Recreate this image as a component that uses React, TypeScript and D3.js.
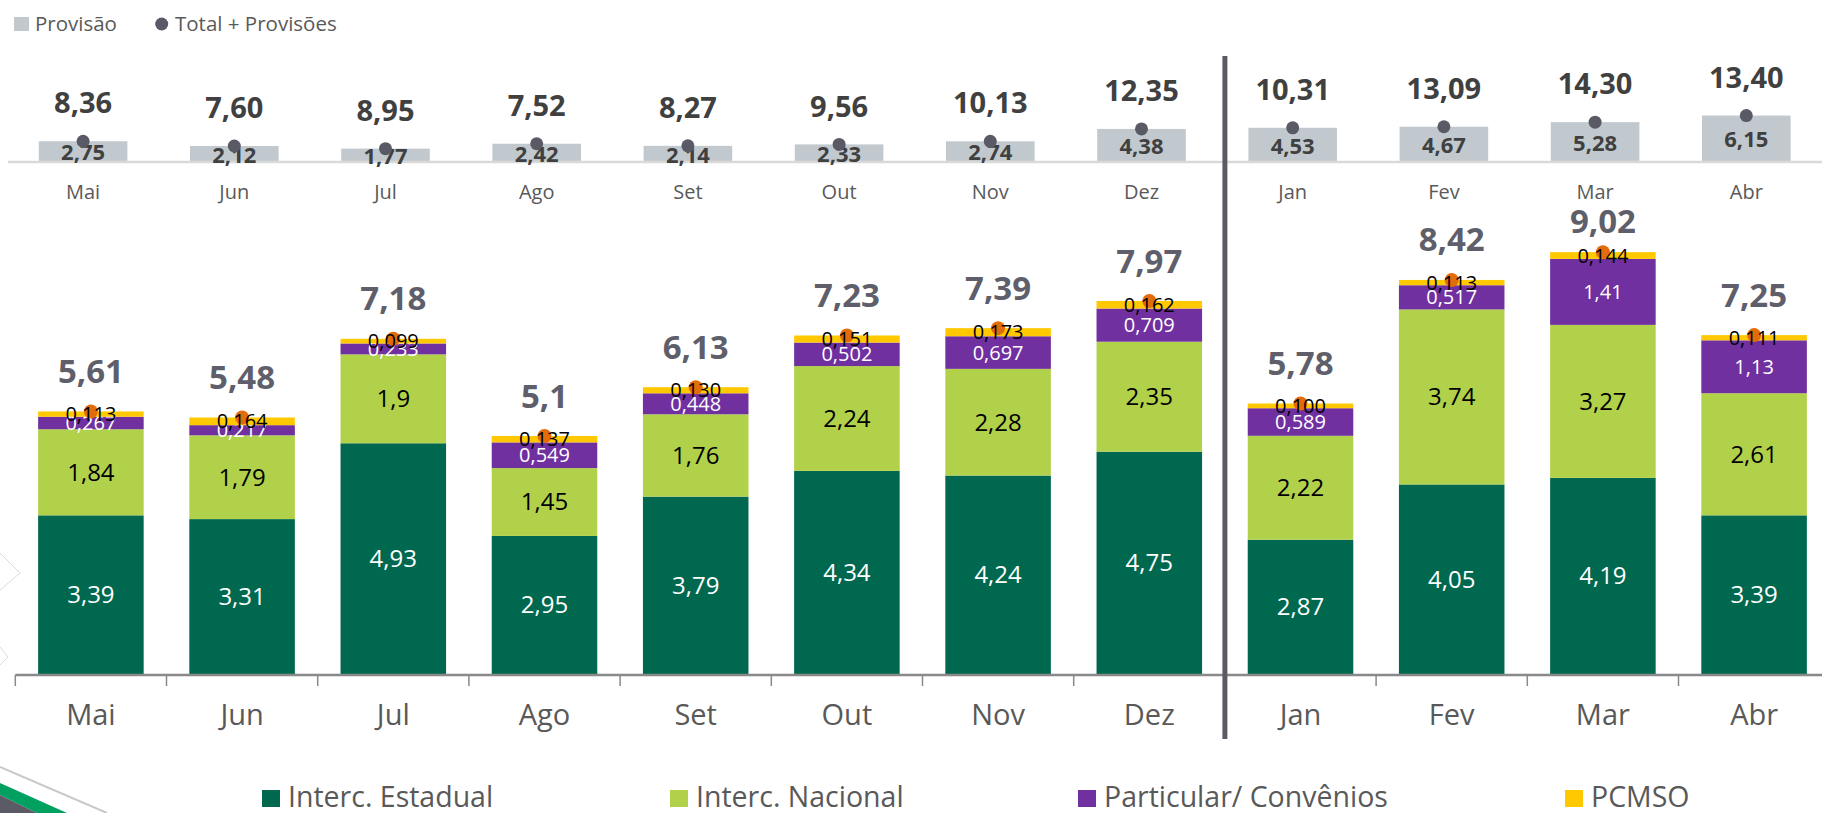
import React, { useRef, useEffect } from 'react';
import * as d3 from 'd3';

// chart data
const months = ['Mai', 'Jun', 'Jul', 'Ago', 'Set', 'Out', 'Nov', 'Dez', 'Jan', 'Fev', 'Mar', 'Abr'];
const intercEstadual = [3.39, 3.31, 4.93, 2.95, 3.79, 4.34, 4.24, 4.75, 2.87, 4.05, 4.19, 3.39];
const intercNacional = [1.84, 1.79, 1.9, 1.45, 1.76, 2.24, 2.28, 2.35, 2.22, 3.74, 3.27, 2.61];
const particular = [0.267, 0.217, 0.233, 0.549, 0.448, 0.502, 0.697, 0.709, 0.589, 0.517, 1.41, 1.13];
const pcmso = [0.113, 0.164, 0.099, 0.137, 0.13, 0.151, 0.173, 0.162, 0.1, 0.113, 0.144, 0.111];
const totals = [5.61, 5.48, 7.18, 5.1, 6.13, 7.23, 7.39, 7.97, 5.78, 8.42, 9.02, 7.25];
const provisao = [2.75, 2.12, 1.77, 2.42, 2.14, 2.33, 2.74, 4.38, 4.53, 4.67, 5.28, 6.15];
const totalProvisoes = [8.36, 7.6, 8.95, 7.52, 8.27, 9.56, 10.13, 12.35, 10.31, 13.09, 14.3, 13.4];

const seriesKeys = ['Interc. Estadual', 'Interc. Nacional', 'Particular/ Convênios', 'PCMSO'];
const seriesColors = ['#00684F', '#B1D14B', '#7030A0', '#FFC800'];
const labelColors = ['#ffffff', '#000000', '#ffffff', '#000000'];
const labelSizes = [24, 24, 20, 20];

const FONT = '"Open Sans", sans-serif';

const comma = (v: number) => String(v).replace('.', ',');

const App = () => {
  const svgRef = useRef<SVGSVGElement>(null);

  useEffect(() => {
    const W = 1822;
    const H = 813;
    const svg = d3.select(svgRef.current).attr('width', W).attr('height', H).style('font-family', FONT);
    svg.selectAll('*').remove();

    // background decoration (bottom-left corner)
    svg.append('polyline').attr('points', '0,553 20,573 0,590').attr('fill', 'none').attr('stroke', '#DCDCDC');
    svg.append('polyline').attr('points', '0,647 8,657 0,665').attr('fill', 'none').attr('stroke', '#DCDCDC');
    svg.append('line').attr('x1', 0).attr('y1', 767).attr('x2', 107).attr('y2', 813)
      .attr('stroke', '#C8C8C8').attr('stroke-width', 2);
    svg.append('polygon').attr('points', '0,783 67,813 37,813 0,795').attr('fill', '#00A060');
    svg.append('polygon').attr('points', '0,795 37,813 0,813').attr('fill', '#5B5B66');

    // ---------- top chart: provisão ----------
    const xTop = d3.scaleBand().domain(months).range([7.5, 7.5 + 12 * 151.2]);
    const yTop = d3.scaleLinear().domain([0, 7]).range([162, 162 - 7 * 7.55]);
    const topW = xTop.bandwidth() * 0.586;
    const cTop = (m: string) => (xTop(m) as number) + xTop.bandwidth() / 2;

    const topData = months.map((m, i) => ({ m, prov: provisao[i], tot: totalProvisoes[i] }));

    svg.selectAll('.prov-bar')
      .data(topData)
      .join('rect')
      .attr('class', 'prov-bar')
      .attr('x', (d) => cTop(d.m) - topW / 2)
      .attr('y', (d) => yTop(d.prov))
      .attr('width', topW)
      .attr('height', (d) => yTop(0) - yTop(d.prov))
      .style('fill', '#C1C9CE');

    svg.append('line').attr('x1', 8).attr('x2', W).attr('y1', yTop(0)).attr('y2', yTop(0))
      .attr('stroke', '#D9D9D9').attr('stroke-width', 2.5);

    svg.selectAll('.prov-text')
      .data(topData)
      .join('text')
      .attr('class', 'prov-text')
      .text((d) => d.prov.toFixed(2).replace('.', ','))
      .attr('x', (d) => cTop(d.m))
      .attr('y', (d) => (yTop(d.prov) + yTop(0)) / 2 + 1)
      .attr('dy', '0.35em')
      .attr('text-anchor', 'middle')
      .style('font-size', '22px')
      .style('font-weight', 700)
      .style('fill', '#404040');

    svg.selectAll('.tot-dot')
      .data(topData)
      .join('circle')
      .attr('class', 'tot-dot')
      .attr('cx', (d) => cTop(d.m))
      .attr('cy', (d) => yTop(d.prov))
      .attr('r', 6.5)
      .style('fill', '#5A5A66');

    svg.selectAll('.tot-text')
      .data(topData)
      .join('text')
      .attr('class', 'tot-text')
      .text((d) => d.tot.toFixed(2).replace('.', ','))
      .attr('x', (d) => cTop(d.m))
      .attr('y', (d) => yTop(d.prov) - 38)
      .attr('dy', '0.35em')
      .attr('text-anchor', 'middle')
      .style('font-size', '29px')
      .style('font-weight', 700)
      .style('fill', '#404040');

    svg.selectAll('.top-cat')
      .data(months)
      .join('text')
      .attr('class', 'top-cat')
      .text((d) => d)
      .attr('x', (d) => cTop(d))
      .attr('y', 192)
      .attr('dy', '0.35em')
      .attr('text-anchor', 'middle')
      .style('font-size', '20px')
      .style('fill', '#595959');

    // top legend
    svg.append('rect').attr('x', 14).attr('y', 17).attr('width', 15).attr('height', 14).style('fill', '#C1C9CE');
    svg.append('text').text('Provisão').attr('x', 35).attr('y', 24).attr('dy', '0.35em')
      .style('font-size', '20.5px').style('fill', '#595959');
    svg.append('circle').attr('cx', 161.7).attr('cy', 24).attr('r', 6.5).style('fill', '#5A5A66');
    svg.append('text').text('Total + Provisões').attr('x', 175).attr('y', 24).attr('dy', '0.35em')
      .style('font-size', '20.5px').style('fill', '#595959');

    // ---------- bottom chart: stacked ----------
    const xBot = d3.scaleBand().domain(months).range([15.3, 15.3 + 12 * 151.2]);
    const yBot = d3.scaleLinear().domain([0, 10]).range([674, 206]);
    const botW = xBot.bandwidth() * 0.698;
    const cBot = (m: string) => (xBot(m) as number) + xBot.bandwidth() / 2;

    const rows = months.map((m, i) => ({
      m,
      [seriesKeys[0]]: intercEstadual[i],
      [seriesKeys[1]]: intercNacional[i],
      [seriesKeys[2]]: particular[i],
      [seriesKeys[3]]: pcmso[i],
    }));
    const stacked = d3.stack<any>().keys(seriesKeys)(rows);

    stacked.forEach((layer, k) => {
      const g = svg.append('g');
      g.selectAll('rect')
        .data(layer)
        .join('rect')
        .attr('x', (d: any) => cBot(d.data.m) - botW / 2)
        .attr('y', (d: any) => yBot(d[1]))
        .attr('width', botW)
        .attr('height', (d: any) => yBot(d[0]) - yBot(d[1]))
        .style('fill', seriesColors[k]);
      if (k === 3) return;
      g.selectAll('text')
        .data(layer)
        .join('text')
        .text((d: any) => comma(d.data[seriesKeys[k]]))
        .attr('x', (d: any) => cBot(d.data.m))
        .attr('y', (d: any) => (yBot(d[0]) + yBot(d[1])) / 2)
        .attr('dy', '0.35em')
        .attr('text-anchor', 'middle')
        .style('font-size', labelSizes[k] + 'px')
        .style('fill', labelColors[k]);
    });

    const topLayer = stacked[3];

    svg.selectAll('.sum-dot')
      .data(topLayer)
      .join('circle')
      .attr('class', 'sum-dot')
      .attr('cx', (d: any) => cBot(d.data.m))
      .attr('cy', (d: any) => yBot(d[1]))
      .attr('r', 7)
      .style('fill', '#E36C0A');

    svg.selectAll('.pcmso-text')
      .data(topLayer)
      .join('text')
      .attr('class', 'pcmso-text')
      .text((d: any) => d.data[seriesKeys[3]].toFixed(3).replace('.', ','))
      .attr('x', (d: any) => cBot(d.data.m))
      .attr('y', (d: any) => (yBot(d[0]) + yBot(d[1])) / 2)
      .attr('dy', '0.35em')
      .attr('text-anchor', 'middle')
      .style('font-size', labelSizes[3] + 'px')
      .style('fill', labelColors[3]);

    svg.selectAll('.sum-text')
      .data(topLayer)
      .join('text')
      .attr('class', 'sum-text')
      .text((d: any, i) => comma(totals[i]))
      .attr('x', (d: any) => cBot(d.data.m))
      .attr('y', (d: any) => Math.max(yBot(d[1]) - 40, 221))
      .attr('dy', '0.35em')
      .attr('text-anchor', 'middle')
      .style('font-size', '33px')
      .style('font-weight', 700)
      .style('fill', '#5F5F6B');

    // bottom axis
    svg.append('line').attr('x1', 15.3).attr('x2', W).attr('y1', yBot(0) + 1).attr('y2', yBot(0) + 1)
      .attr('stroke', '#898989').attr('stroke-width', 2.5);
    svg.selectAll('.tick-mark')
      .data(months)
      .join('line')
      .attr('class', 'tick-mark')
      .attr('x1', (d) => xBot(d) as number)
      .attr('x2', (d) => xBot(d) as number)
      .attr('y1', yBot(0) + 1)
      .attr('y2', yBot(0) + 12)
      .attr('stroke', '#898989')
      .attr('stroke-width', 1.5);

    svg.selectAll('.bot-cat')
      .data(months)
      .join('text')
      .attr('class', 'bot-cat')
      .text((d) => d)
      .attr('x', (d) => cBot(d))
      .attr('y', 715)
      .attr('dy', '0.35em')
      .attr('text-anchor', 'middle')
      .style('font-size', '29px')
      .style('fill', '#595959');

    // separator between years
    const sepX = xBot('Jan') as number;
    svg.append('line').attr('x1', sepX).attr('x2', sepX).attr('y1', 56).attr('y2', 739)
      .attr('stroke', '#5B5B66').attr('stroke-width', 5);

    // bottom legend
    const legX = [262, 670, 1078, 1565];
    seriesKeys.forEach((k, i) => {
      svg.append('rect').attr('x', legX[i]).attr('y', 790).attr('width', 18).attr('height', 17)
        .style('fill', seriesColors[i]);
      svg.append('text').text(k).attr('x', legX[i] + 26).attr('y', 797).attr('dy', '0.35em')
        .style('font-size', '28.5px').style('fill', '#595959');
    });
  }, []);

  return <svg ref={svgRef} style={{ position: 'absolute', left: 0, top: 0, display: 'block' }}></svg>;
};

export default App;
